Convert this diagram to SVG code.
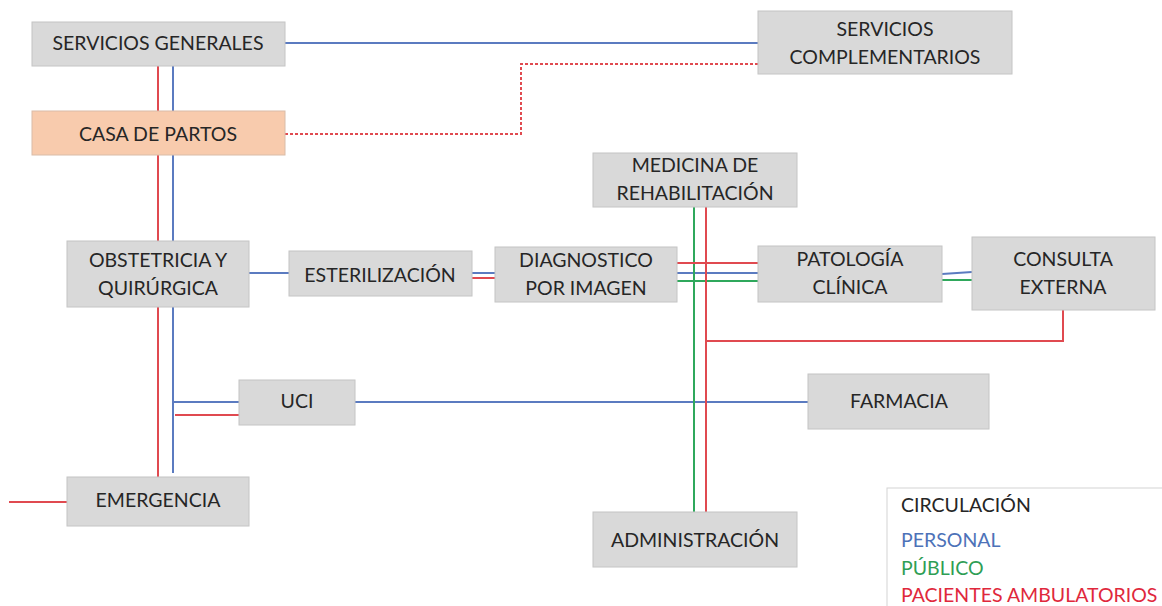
<svg xmlns="http://www.w3.org/2000/svg" width="1162" height="606" viewBox="0 0 1162 606">
  <style>
    .box { fill: #d9d9d9; stroke: #c4c4c4; stroke-width: 1; }
    .box.accent { fill: #f8cbad; stroke: #d9bca8; }
    .lbl { font-family: Lato, "Open Sans", "Liberation Sans", sans-serif; font-size: 19.5px; fill: #262626; text-anchor: middle; }
    .leg { font-family: Lato, "Open Sans", "Liberation Sans", sans-serif; font-size: 19.5px; }
    .staff { stroke: #5b7bc0; stroke-width: 2; fill: none; }
    .public { stroke: #2fa85c; stroke-width: 2; fill: none; }
    .patient { stroke: #e04a50; stroke-width: 2; fill: none; }
    .patient.dotted { stroke-dasharray: 3 2; }
  </style>
  <rect width="1162" height="606" fill="#ffffff"/>

  <!-- circulation routes -->
  <g id="connectors">
    <!-- staff (blue) -->
    <line class="staff" x1="285" y1="43" x2="758" y2="43"/>
    <line class="staff" x1="173" y1="66" x2="173" y2="111"/>
    <line class="staff" x1="173" y1="155" x2="173" y2="241"/>
    <line class="staff" x1="173" y1="303" x2="173" y2="473"/>
    <line class="staff" x1="249" y1="273" x2="289" y2="273"/>
    <line class="staff" x1="472" y1="273" x2="495" y2="273"/>
    <line class="staff" x1="677" y1="273" x2="758" y2="273"/>
    <line class="staff" x1="942" y1="274" x2="972" y2="272"/>
    <line class="staff" x1="173" y1="402" x2="239" y2="402"/>
    <line class="staff" x1="355" y1="402" x2="808" y2="402"/>
    <!-- public (green) -->
    <line class="public" x1="694" y1="207" x2="694" y2="512"/>
    <line class="public" x1="677" y1="281" x2="758" y2="281"/>
    <line class="public" x1="942" y1="280" x2="972" y2="280"/>
    <!-- outpatients (red) -->
    <line class="patient" x1="158" y1="66" x2="158" y2="111"/>
    <line class="patient" x1="158" y1="155" x2="158" y2="241"/>
    <line class="patient" x1="158" y1="307" x2="158" y2="477"/>
    <line class="patient" x1="9" y1="502" x2="67" y2="502"/>
    <line class="patient" x1="175" y1="415" x2="239" y2="415"/>
    <line class="patient" x1="472" y1="278" x2="495" y2="278"/>
    <line class="patient" x1="677" y1="263" x2="758" y2="263"/>
    <line class="patient" x1="706" y1="207" x2="706" y2="512"/>
    <polyline class="patient" points="706,341 1063,341 1063,310"/>
    <polyline class="patient dotted" points="285,134 521,134 521,64 758,64"/>
  </g>

  <g id="servicios-generales">
    <rect class="box" x="32" y="22" width="253" height="44"/>
    <text class="lbl" x="158" y="50">SERVICIOS GENERALES</text>
  </g>
  <g id="servicios-complementarios">
    <rect class="box" x="758" y="11" width="254" height="63"/>
    <text class="lbl" x="885" y="36">SERVICIOS</text>
    <text class="lbl" x="885" y="64">COMPLEMENTARIOS</text>
  </g>
  <g id="casa-de-partos">
    <rect class="box accent" x="32" y="111" width="253" height="44"/>
    <text class="lbl" x="158" y="141">CASA DE PARTOS</text>
  </g>
  <g id="medicina-rehabilitacion">
    <rect class="box" x="593" y="153" width="204" height="54"/>
    <text class="lbl" x="695" y="172">MEDICINA DE</text>
    <text class="lbl" x="695" y="200">REHABILITACIÓN</text>
  </g>
  <g id="obstetricia">
    <rect class="box" x="67" y="241" width="182" height="66"/>
    <text class="lbl" x="158" y="267">OBSTETRICIA Y</text>
    <text class="lbl" x="158" y="295">QUIRÚRGICA</text>
  </g>
  <g id="esterilizacion">
    <rect class="box" x="289" y="251" width="183" height="45"/>
    <text class="lbl" x="380" y="282">ESTERILIZACIÓN</text>
  </g>
  <g id="diagnostico">
    <rect class="box" x="495" y="247" width="182" height="55"/>
    <text class="lbl" x="586" y="267">DIAGNOSTICO</text>
    <text class="lbl" x="586" y="295">POR IMAGEN</text>
  </g>
  <g id="patologia">
    <rect class="box" x="758" y="246" width="184" height="56"/>
    <text class="lbl" x="850" y="266">PATOLOGÍA</text>
    <text class="lbl" x="850" y="294">CLÍNICA</text>
  </g>
  <g id="consulta-externa">
    <rect class="box" x="972" y="237" width="183" height="73"/>
    <text class="lbl" x="1063" y="266">CONSULTA</text>
    <text class="lbl" x="1063" y="294">EXTERNA</text>
  </g>
  <g id="uci">
    <rect class="box" x="239" y="380" width="116" height="45"/>
    <text class="lbl" x="297" y="408">UCI</text>
  </g>
  <g id="farmacia">
    <rect class="box" x="808" y="374" width="181" height="55"/>
    <text class="lbl" x="899" y="408">FARMACIA</text>
  </g>
  <g id="emergencia">
    <rect class="box" x="67" y="477" width="182" height="49"/>
    <text class="lbl" x="158" y="507">EMERGENCIA</text>
  </g>
  <g id="administracion">
    <rect class="box" x="593" y="512" width="204" height="55"/>
    <text class="lbl" x="695" y="547">ADMINISTRACIÓN</text>
  </g>

  <g id="legend">
    <rect x="887" y="488" width="290" height="130" fill="#ffffff" stroke="#d4d4d4" stroke-width="1"/>
    <text class="leg" x="901" y="512" fill="#262626">CIRCULACIÓN</text>
    <text class="leg" x="901" y="547" fill="#4d72b8">PERSONAL</text>
    <text class="leg" x="901" y="575" fill="#2f9e55">PÚBLICO</text>
    <text class="leg" x="901" y="602" fill="#e0283c">PACIENTES AMBULATORIOS</text>
  </g>
</svg>
